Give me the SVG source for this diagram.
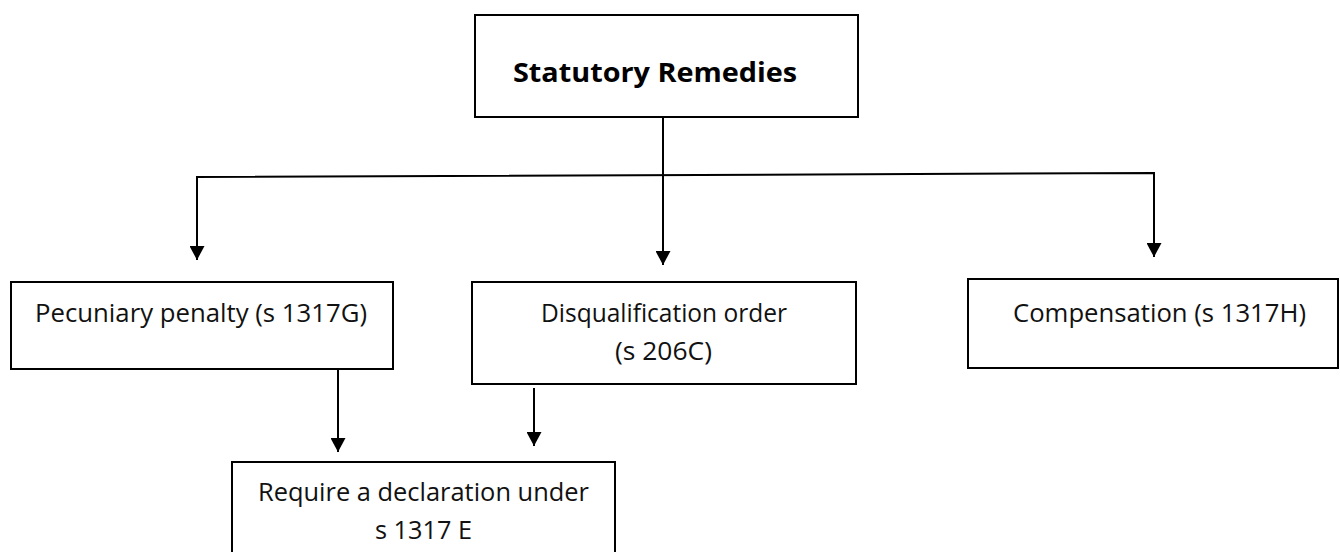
<svg xmlns="http://www.w3.org/2000/svg" width="1340" height="552" viewBox="0 0 1340 552">
<style>
.box{fill:#fff;stroke:#000;stroke-width:2}
.t{font-family:"Open Sans","Liberation Sans",sans-serif;font-size:25px;fill:#111}
.tb{font-family:"Open Sans","Liberation Sans",sans-serif;font-size:26px;font-weight:bold;fill:#000}
.c{fill:none;stroke:#000;stroke-width:2}
</style>
<defs>
<marker id="ah" viewBox="0 0 14 15" refX="14" refY="7.5" markerWidth="14" markerHeight="15" markerUnits="userSpaceOnUse" orient="auto">
<path d="M0,0 L14,7.5 L0,15 z" fill="#000"/>
</marker>
</defs>
<g id="connectors">
<path class="c" d="M663,117 V265" marker-end="url(#ah)"/>
<path class="c" d="M197,177 V260" marker-end="url(#ah)"/>
<path class="c" d="M196,177 L1154,173 V257" marker-end="url(#ah)"/>
<path class="c" d="M338,369 V452" marker-end="url(#ah)"/>
<path class="c" d="M534,388 V446" marker-end="url(#ah)"/>
</g>
<g id="n-statutory">
<rect class="box" x="475" y="15" width="383" height="102"/>
<text class="tb" x="513" y="82" textLength="284" lengthAdjust="spacingAndGlyphs">Statutory Remedies</text>
</g>
<g id="n-pecuniary">
<rect class="box" x="11" y="282" width="382" height="87"/>
<text class="t" x="35" y="322" textLength="332" lengthAdjust="spacingAndGlyphs">Pecuniary penalty (s 1317G)</text>
</g>
<g id="n-disqualification">
<rect class="box" x="472" y="282" width="384" height="102"/>
<text class="t" x="541" y="322" textLength="246" lengthAdjust="spacingAndGlyphs">Disqualification order</text>
<text class="t" x="615" y="360" textLength="97" lengthAdjust="spacingAndGlyphs">(s 206C)</text>
</g>
<g id="n-compensation">
<rect class="box" x="968" y="279" width="370" height="89"/>
<text class="t" x="1013" y="322" textLength="293" lengthAdjust="spacingAndGlyphs">Compensation (s 1317H)</text>
</g>
<g id="n-declaration">
<rect class="box" x="232" y="462" width="383" height="110"/>
<text class="t" x="258" y="501" textLength="331" lengthAdjust="spacingAndGlyphs">Require a declaration under</text>
<text class="t" x="375" y="539" textLength="97" lengthAdjust="spacingAndGlyphs">s 1317 E</text>
</g>
</svg>
